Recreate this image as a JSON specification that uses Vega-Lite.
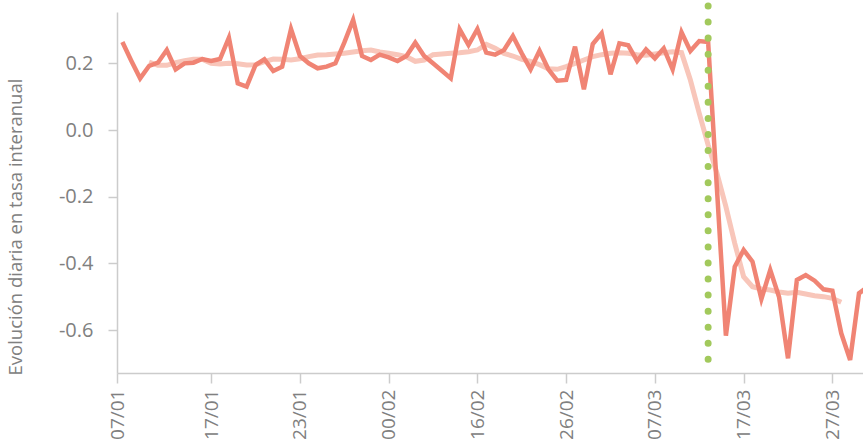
{
 "$schema": "https://vega.github.io/schema/vega-lite/v6.json",
 "width": 746,
 "height": 361,
 "autosize": {"type": "none"},
 "padding": {"left": 117, "top": 12, "right": 0, "bottom": 73},
 "background": "white",
 "config": {"view": {"stroke": null}, "font": "Open Sans"},
 "datasets": {
  "diaria": [
   {"fecha":"2020-01-07","valor":0.264},{"fecha":"2020-01-08","valor":0.208},{"fecha":"2020-01-09","valor":0.155},{"fecha":"2020-01-10","valor":0.192},{"fecha":"2020-01-11","valor":0.202},{"fecha":"2020-01-12","valor":0.24},{"fecha":"2020-01-13","valor":0.182},{"fecha":"2020-01-14","valor":0.2},{"fecha":"2020-01-15","valor":0.202},{"fecha":"2020-01-16","valor":0.213},{"fecha":"2020-01-17","valor":0.207},{"fecha":"2020-01-18","valor":0.213},{"fecha":"2020-01-19","valor":0.277},{"fecha":"2020-01-20","valor":0.14},{"fecha":"2020-01-21","valor":0.13},{"fecha":"2020-01-22","valor":0.195},{"fecha":"2020-01-23","valor":0.212},{"fecha":"2020-01-24","valor":0.177},{"fecha":"2020-01-25","valor":0.19},{"fecha":"2020-01-26","valor":0.303},{"fecha":"2020-01-27","valor":0.222},{"fecha":"2020-01-28","valor":0.2},{"fecha":"2020-01-29","valor":0.185},{"fecha":"2020-01-30","valor":0.19},{"fecha":"2020-01-31","valor":0.2},{"fecha":"2020-02-01","valor":0.262},{"fecha":"2020-02-02","valor":0.33},{"fecha":"2020-02-03","valor":0.222},{"fecha":"2020-02-04","valor":0.21},{"fecha":"2020-02-05","valor":0.226},{"fecha":"2020-02-06","valor":0.218},{"fecha":"2020-02-07","valor":0.207},{"fecha":"2020-02-08","valor":0.222},{"fecha":"2020-02-09","valor":0.262},{"fecha":"2020-02-10","valor":0.222},{"fecha":"2020-02-11","valor":0.2},{"fecha":"2020-02-12","valor":0.178},{"fecha":"2020-02-13","valor":0.155},{"fecha":"2020-02-14","valor":0.302},{"fecha":"2020-02-15","valor":0.255},{"fecha":"2020-02-16","valor":0.303},{"fecha":"2020-02-17","valor":0.232},{"fecha":"2020-02-18","valor":0.226},{"fecha":"2020-02-19","valor":0.24},{"fecha":"2020-02-20","valor":0.282},{"fecha":"2020-02-21","valor":0.23},{"fecha":"2020-02-22","valor":0.182},{"fecha":"2020-02-23","valor":0.238},{"fecha":"2020-02-24","valor":0.182},{"fecha":"2020-02-25","valor":0.148},{"fecha":"2020-02-26","valor":0.15},{"fecha":"2020-02-27","valor":0.25},{"fecha":"2020-02-28","valor":0.122},{"fecha":"2020-02-29","valor":0.258},{"fecha":"2020-03-01","valor":0.29},{"fecha":"2020-03-02","valor":0.167},{"fecha":"2020-03-03","valor":0.26},{"fecha":"2020-03-04","valor":0.254},{"fecha":"2020-03-05","valor":0.207},{"fecha":"2020-03-06","valor":0.242},{"fecha":"2020-03-07","valor":0.215},{"fecha":"2020-03-08","valor":0.245},{"fecha":"2020-03-09","valor":0.182},{"fecha":"2020-03-10","valor":0.293},{"fecha":"2020-03-11","valor":0.237},{"fecha":"2020-03-12","valor":0.267},{"fecha":"2020-03-13","valor":0.264},{"fecha":"2020-03-14","valor":-0.18},{"fecha":"2020-03-15","valor":-0.617},{"fecha":"2020-03-16","valor":-0.41},{"fecha":"2020-03-17","valor":-0.36},{"fecha":"2020-03-18","valor":-0.395},{"fecha":"2020-03-19","valor":-0.507},{"fecha":"2020-03-20","valor":-0.42},{"fecha":"2020-03-21","valor":-0.502},{"fecha":"2020-03-22","valor":-0.685},{"fecha":"2020-03-23","valor":-0.45},{"fecha":"2020-03-24","valor":-0.435},{"fecha":"2020-03-25","valor":-0.452},{"fecha":"2020-03-26","valor":-0.478},{"fecha":"2020-03-27","valor":-0.482},{"fecha":"2020-03-28","valor":-0.61},{"fecha":"2020-03-29","valor":-0.69},{"fecha":"2020-03-30","valor":-0.49},{"fecha":"2020-03-31","valor":-0.47}
  ],
  "media": [
   {"fecha":"2020-01-10","valor":0.204},{"fecha":"2020-01-11","valor":0.194},{"fecha":"2020-01-12","valor":0.194},{"fecha":"2020-01-13","valor":0.202},{"fecha":"2020-01-14","valor":0.208},{"fecha":"2020-01-15","valor":0.212},{"fecha":"2020-01-16","valor":0.212},{"fecha":"2020-01-17","valor":0.2},{"fecha":"2020-01-18","valor":0.198},{"fecha":"2020-01-19","valor":0.2},{"fecha":"2020-01-20","valor":0.199},{"fecha":"2020-01-21","valor":0.195},{"fecha":"2020-01-22","valor":0.196},{"fecha":"2020-01-23","valor":0.205},{"fecha":"2020-01-24","valor":0.213},{"fecha":"2020-01-25","valor":0.212},{"fecha":"2020-01-26","valor":0.21},{"fecha":"2020-01-27","valor":0.214},{"fecha":"2020-01-28","valor":0.22},{"fecha":"2020-01-29","valor":0.225},{"fecha":"2020-01-30","valor":0.226},{"fecha":"2020-01-31","valor":0.228},{"fecha":"2020-02-01","valor":0.23},{"fecha":"2020-02-02","valor":0.234},{"fecha":"2020-02-03","valor":0.238},{"fecha":"2020-02-04","valor":0.24},{"fecha":"2020-02-05","valor":0.234},{"fecha":"2020-02-06","valor":0.23},{"fecha":"2020-02-07","valor":0.226},{"fecha":"2020-02-08","valor":0.22},{"fecha":"2020-02-09","valor":0.206},{"fecha":"2020-02-10","valor":0.21},{"fecha":"2020-02-11","valor":0.226},{"fecha":"2020-02-12","valor":0.228},{"fecha":"2020-02-13","valor":0.23},{"fecha":"2020-02-14","valor":0.232},{"fecha":"2020-02-15","valor":0.235},{"fecha":"2020-02-16","valor":0.24},{"fecha":"2020-02-17","valor":0.257},{"fecha":"2020-02-18","valor":0.245},{"fecha":"2020-02-19","valor":0.23},{"fecha":"2020-02-20","valor":0.222},{"fecha":"2020-02-21","valor":0.212},{"fecha":"2020-02-22","valor":0.206},{"fecha":"2020-02-23","valor":0.196},{"fecha":"2020-02-24","valor":0.184},{"fecha":"2020-02-25","valor":0.182},{"fecha":"2020-02-26","valor":0.19},{"fecha":"2020-02-27","valor":0.2},{"fecha":"2020-02-28","valor":0.21},{"fecha":"2020-02-29","valor":0.22},{"fecha":"2020-03-01","valor":0.226},{"fecha":"2020-03-02","valor":0.23},{"fecha":"2020-03-03","valor":0.232},{"fecha":"2020-03-04","valor":0.23},{"fecha":"2020-03-05","valor":0.226},{"fecha":"2020-03-06","valor":0.224},{"fecha":"2020-03-07","valor":0.228},{"fecha":"2020-03-08","valor":0.232},{"fecha":"2020-03-09","valor":0.235},{"fecha":"2020-03-10","valor":0.232},{"fecha":"2020-03-11","valor":0.15},{"fecha":"2020-03-12","valor":0.05},{"fecha":"2020-03-13","valor":-0.045},{"fecha":"2020-03-14","valor":-0.13},{"fecha":"2020-03-15","valor":-0.23},{"fecha":"2020-03-16","valor":-0.34},{"fecha":"2020-03-17","valor":-0.44},{"fecha":"2020-03-18","valor":-0.47},{"fecha":"2020-03-19","valor":-0.477},{"fecha":"2020-03-20","valor":-0.48},{"fecha":"2020-03-21","valor":-0.486},{"fecha":"2020-03-22","valor":-0.49},{"fecha":"2020-03-23","valor":-0.487},{"fecha":"2020-03-24","valor":-0.492},{"fecha":"2020-03-25","valor":-0.497},{"fecha":"2020-03-26","valor":-0.5},{"fecha":"2020-03-27","valor":-0.505},{"fecha":"2020-03-28","valor":-0.517}
  ],
  "evento": [{"fecha":"2020-03-13","arriba":0.372,"abajo":-0.717}]
 },
 "encoding": {
  "x": {
   "field": "fecha",
   "type": "temporal",
   "scale": {
    "type": "utc",
    "domain": [
     {"year": 2020, "month": 1, "date": 6, "hours": 9, "minutes": 24, "utc": true},
     {"year": 2020, "month": 3, "date": 30, "hours": 10, "minutes": 48, "utc": true}
    ]
   },
   "axis": {
    "title": null,
    "values": [
     {"year": 2020, "month": 1, "date": 6, "hours": 9, "minutes": 24, "utc": true},
     {"year": 2020, "month": 1, "date": 17, "utc": true},
     {"year": 2020, "month": 1, "date": 27, "utc": true},
     {"year": 2020, "month": 2, "date": 6, "utc": true},
     {"year": 2020, "month": 2, "date": 16, "utc": true},
     {"year": 2020, "month": 2, "date": 26, "utc": true},
     {"year": 2020, "month": 3, "date": 7, "utc": true},
     {"year": 2020, "month": 3, "date": 17, "utc": true},
     {"year": 2020, "month": 3, "date": 27, "utc": true}
    ],
    "labelExpr": "datum.value < utc(2020,0,7) ? '07/01' : utcFormat(datum.value,'%d/%m') == '27/01' ? '23/01' : utcFormat(datum.value,'%d/%m') == '06/02' ? '00/02' : utcFormat(datum.value,'%d/%m')",
    "labelAngle": 270,
    "labelFlush": false,
    "labelOverlap": false,
    "labelFont": "Open Sans",
    "labelFontSize": 19,
    "labelFontWeight": "normal",
    "labelColor": "#808080",
    "labelPadding": 6,
    "tickSize": 10,
    "tickColor": "#cccccc",
    "tickWidth": 1.5,
    "domainColor": "#cccccc",
    "domainWidth": 1.5,
    "grid": false
   }
  },
  "y": {
   "field": "valor",
   "type": "quantitative",
   "scale": {"domain": [-0.729, 0.354], "nice": false, "zero": false},
   "axis": {
    "values": [-0.6, -0.4, -0.2, 0, 0.2],
    "labelExpr": "replace(format(datum.value, '.1f'), '\u2212', '-')",
    "title": "Evolución diaria en tasa interanual",
    "titleX": -102,
    "titleY": 363,
    "titleAngle": 270,
    "titleAlign": "left",
    "titleBaseline": "middle",
    "titleFont": "Open Sans",
    "titleFontSize": 18.5,
    "titleFontWeight": "normal",
    "titleColor": "#808080",
    "labelFont": "Open Sans",
    "labelFontSize": 20,
    "labelFontWeight": "normal",
    "labelColor": "#808080",
    "labelPadding": 15,
    "tickSize": 9,
    "tickColor": "#cccccc",
    "tickWidth": 1.5,
    "domainColor": "#cccccc",
    "domainWidth": 1.5,
    "grid": false
   }
  }
 },
 "layer": [
  {
   "data": {"name": "media"},
   "mark": {"type": "line", "color": "#f8c6ba", "strokeWidth": 5, "clip": true}
  },
  {
   "data": {"name": "diaria"},
   "mark": {"type": "line", "color": "#f08474", "strokeWidth": 4.5, "clip": true}
  },
  {
   "data": {"name": "evento"},
   "mark": {"type": "rule", "color": "#a2c95c", "strokeWidth": 7, "strokeDash": [0.01, 16.05], "strokeCap": "round"},
   "encoding": {
    "x": {"field": "fecha", "type": "temporal"},
    "y": {"field": "arriba", "type": "quantitative"},
    "y2": {"field": "abajo"}
   }
  }
 ]
}
